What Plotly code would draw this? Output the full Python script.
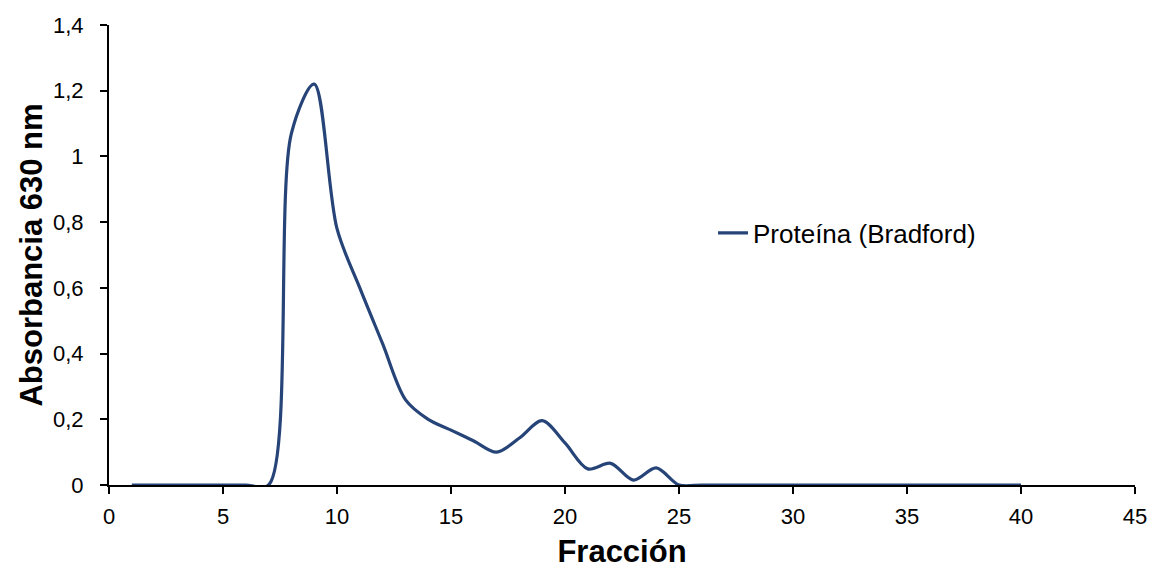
import plotly.graph_objects as go

fraccion = list(range(1, 41))
absorbancia = [0, 0, 0, 0, 0, 0, 0, 1.07, 1.22, 0.78, 0.60, 0.43, 0.26, 0.20, 0.167,
               0.134, 0.10, 0.143, 0.196, 0.128, 0.049, 0.066, 0.015, 0.052, 0,
               0, 0, 0, 0, 0, 0, 0, 0, 0, 0, 0, 0, 0, 0, 0]
serie = "Proteína (Bradford)"
x_ticks = list(range(0, 50, 5))
y_ticks = [0, 0.2, 0.4, 0.6, 0.8, 1.0, 1.2, 1.4]
y_labels = ["0", "0,2", "0,4", "0,6", "0,8", "1", "1,2", "1,4"]

font = "Liberation Sans, Arial, sans-serif"

fig = go.Figure()
fig.add_trace(go.Scatter(
    x=fraccion, y=absorbancia, mode="lines", name=serie,
    line=dict(color="#264478", width=3.2, shape="spline", smoothing=0.9),
))

fig.update_layout(
    width=1153, height=569,
    margin=dict(l=109, r=18, t=25, b=84),
    plot_bgcolor="white", paper_bgcolor="white",
    font=dict(family=font, color="black", size=22),
    showlegend=True,
    legend=dict(x=(713 - 109) / 1026, y=0.548, xanchor="left", yanchor="middle",
                font=dict(size=26, family=font), bgcolor="rgba(0,0,0,0)"),
    xaxis=dict(
        range=[0, 45], tickvals=x_ticks, ticks="outside", ticklen=7, tickwidth=2,
        tickcolor="black", showline=True, linecolor="black", linewidth=2,
        showgrid=False, zeroline=False, tickfont=dict(size=22), automargin=False,
        ticklabelstandoff=4,
        title=dict(text="<b>Fracción</b>", font=dict(size=31), standoff=18),
    ),
    yaxis=dict(
        range=[0, 1.4], tickvals=y_ticks, ticktext=y_labels, ticks="outside",
        ticklen=7, tickwidth=2, tickcolor="black", showline=True, linecolor="black",
        linewidth=2, showgrid=False, zeroline=False, tickfont=dict(size=22),
        automargin=False, ticklabelstandoff=12,
        title=dict(text="<b>Absorbancia 630 nm</b>", font=dict(size=31), standoff=1),
    ),
)

fig.write_html("out.html")
